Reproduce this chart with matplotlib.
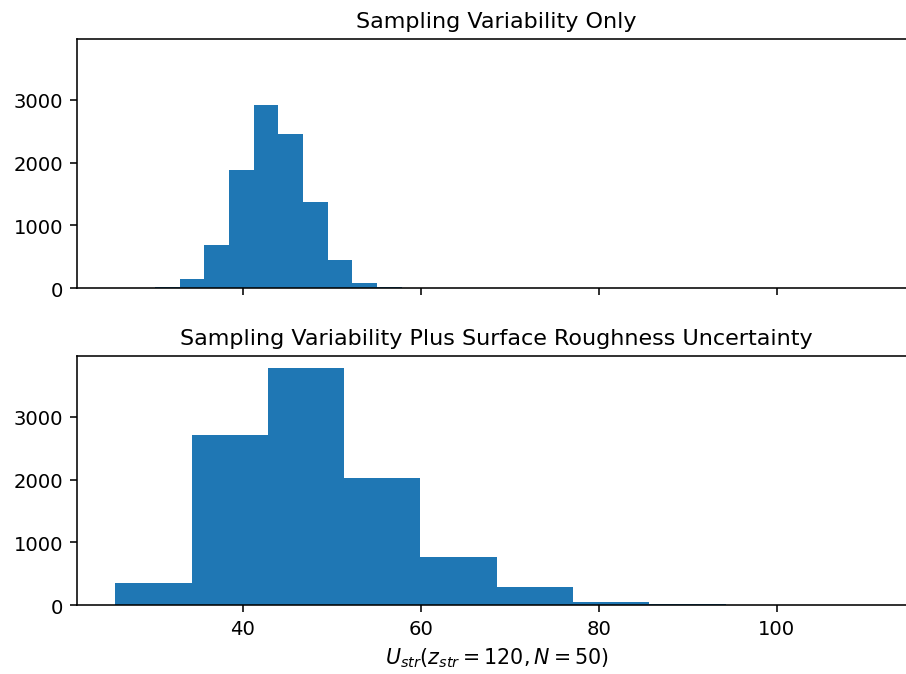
import matplotlib
matplotlib.use('Agg')
import matplotlib.pyplot as plt

# histogram bin edges and counts
top_edges = [30.15, 32.92, 35.69, 38.47, 41.24, 44.01, 46.78, 49.55, 52.32, 55.10, 57.87]
top_counts = [12, 140, 685, 1885, 2910, 2450, 1378, 440, 80, 10]

bottom_edges = [25.70, 34.27, 42.84, 51.41, 59.98, 68.55, 77.12, 85.69, 94.26, 102.83, 111.40]
bottom_counts = [345, 2715, 3780, 2020, 770, 280, 55, 20, 6, 2]

top_title = 'Sampling Variability Only'
bottom_title = 'Sampling Variability Plus Surface Roughness Uncertainty'
x_label = r'$U_{str}(z_{str} = 120, N = 50)$'

fig, (ax1, ax2) = plt.subplots(2, 1, sharex=True, sharey=True, figsize=(6.4, 4.7635), dpi=141.7)

ax1.hist(top_edges[:-1], bins=top_edges, weights=top_counts)
ax1.set_title(top_title, fontsize=11.3)

ax2.hist(bottom_edges[:-1], bins=bottom_edges, weights=bottom_counts)
ax2.set_title(bottom_title, fontsize=11.3)
ax2.set_xlabel(x_label, fontsize=10.5)

# the reference is clipped on the right, so the axes run past the figure edge
fig.subplots_adjust(left=0.0852, right=1.0103, top=0.9407, bottom=0.1022, hspace=0.273)
fig.savefig('out.png')
